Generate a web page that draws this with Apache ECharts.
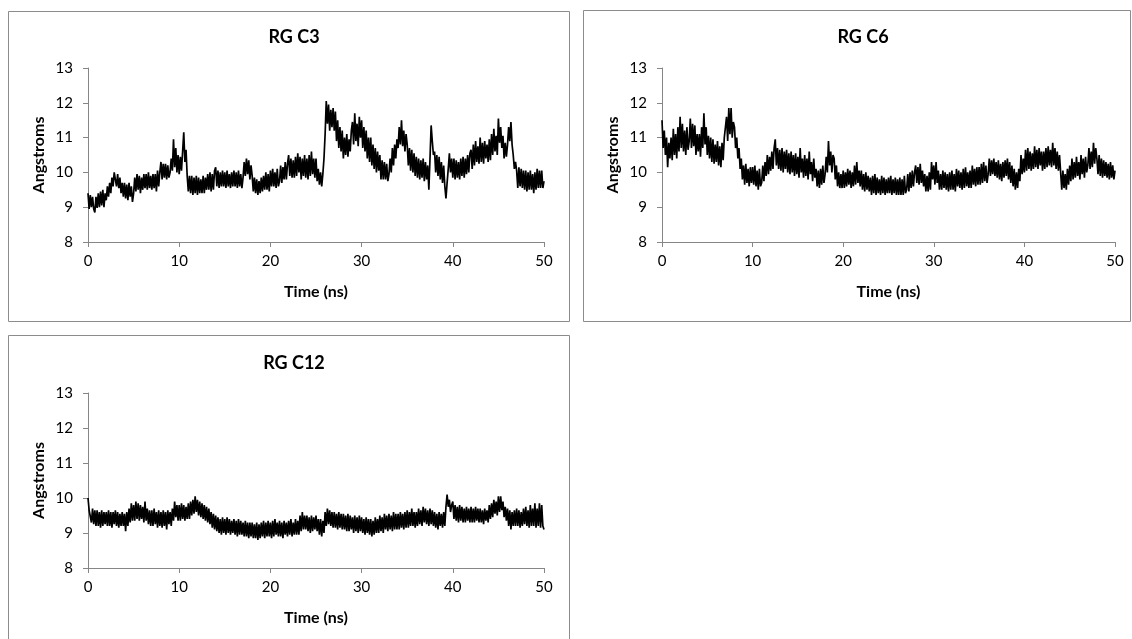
<!DOCTYPE html>
<html>
<head>
<meta charset="utf-8">
<script src="https://cdn.jsdelivr.net/npm/echarts@6/dist/echarts.min.js"></script>
<style>
html,body{margin:0;padding:0;background:#fff;}
#chart{width:1132px;height:639px;}
</style>
</head>
<body>
<div id="chart"></div>
<script>
// ---- data (Angstroms, sampled every 0.125 ns from 0 to 50 ns; one row per ns) ----
const timeStep = 0.125;
const xTicks = [0, 10, 20, 30, 40, 50];
const yTicks = [8, 9, 10, 11, 12, 13];
const titles = ['RG C3', 'RG C6', 'RG C12'];

const rgC3 = [
  9.4, 8.95, 9.35, 9.0, 9.3, 8.95, 8.85, 9.3,
  8.98, 9.4, 9.0, 9.45, 9.05, 9.5, 9.0, 9.4,
  9.2, 9.6, 9.3, 9.7, 9.4, 9.85, 9.6, 10.0,
  10.05, 9.6, 9.95, 9.55, 9.85, 9.4, 9.7, 9.3,
  9.7, 9.25, 9.65, 9.2, 9.7, 9.3, 9.6, 9.15,
  9.4, 9.85, 9.45, 9.95, 9.5, 9.9, 9.4, 9.85,
  9.5, 9.95, 9.55, 9.95, 9.5, 10.0, 9.55, 9.9,
  9.5, 9.95, 9.55, 9.95, 9.45, 10.05, 9.6, 10.0,
  10.3, 9.8, 10.25, 9.85, 10.25, 9.8, 10.2, 9.85,
  10.0, 10.4, 10.05, 10.95, 10.15, 10.7, 10.0, 10.5,
  9.95, 10.45, 10.05, 10.6, 11.15, 10.3, 10.65, 9.9,
  9.45, 9.9, 9.4, 9.9, 9.35, 9.85, 9.4, 9.9,
  9.35, 9.85, 9.4, 9.8, 9.4, 9.9, 9.4, 9.85,
  9.5, 9.95, 9.5, 10.0, 9.45, 9.95, 9.5, 10.05,
  10.15, 9.6, 10.05, 9.55, 10.0, 9.6, 10.05, 9.6,
  10.0, 9.55, 10.05, 9.6, 9.95, 9.55, 10.0, 9.6,
  10.05, 9.6, 10.0, 9.55, 10.05, 9.6, 9.95, 9.55,
  9.85, 10.3, 9.9, 10.4, 9.95, 10.35, 9.8, 10.2,
  9.9, 9.45, 9.85, 9.4, 9.8, 9.35, 9.75, 9.4,
  9.85, 9.45, 9.9, 9.5, 10.0, 9.5, 9.95, 9.45,
  10.05, 9.6, 10.1, 9.6, 10.0, 9.55, 10.1, 9.6,
  9.75, 10.2, 9.7, 10.15, 9.8, 10.3, 9.8, 10.25,
  10.5, 9.9, 10.4, 9.85, 10.35, 9.85, 10.45, 9.9,
  10.55, 10.0, 10.45, 9.8, 10.4, 9.9, 10.5, 9.85,
  10.4, 9.8, 10.5, 9.9, 10.6, 9.95, 10.4, 9.85,
  10.4, 9.75, 10.1, 9.65, 10.0, 9.6, 9.95, 10.4,
  11.1, 12.05, 11.4, 11.95, 11.2, 11.8, 11.3, 11.85,
  11.2, 11.75, 10.9, 11.5, 10.7, 11.3, 10.6, 11.2,
  10.4, 11.0, 10.5, 11.1, 10.45, 10.95, 10.6, 11.2,
  11.45, 10.8, 11.7, 10.9, 11.4, 10.75, 11.6, 11.0,
  11.5, 10.7, 11.3, 10.6, 11.2, 10.4, 11.0, 10.3,
  11.0, 10.2, 10.8, 10.1, 10.7, 10.0, 10.6, 10.05,
  10.5, 9.8, 10.35, 9.8, 10.3, 9.8, 10.25, 9.75,
  9.95, 10.4, 10.0, 10.7, 10.2, 10.8, 10.4, 10.95,
  10.7, 11.3, 10.8, 11.5, 10.75, 11.2, 10.6, 11.1,
  10.8, 10.2, 10.7, 10.05, 10.65, 10.0, 10.55, 9.9,
  10.45, 9.85, 10.4, 9.8, 10.35, 9.85, 10.4, 9.75,
  10.3, 9.8, 10.2, 9.5, 10.4, 11.35, 10.9, 10.5,
  10.6, 10.0, 10.5, 9.9, 10.45, 9.8, 10.3, 9.7,
  10.2, 9.6, 9.25, 9.7, 10.1, 10.55, 10.0, 10.4,
  9.85, 10.4, 9.8, 10.35, 9.85, 10.3, 9.8, 10.4,
  9.9, 10.45, 9.85, 10.4, 9.95, 10.5, 10.0, 10.55,
  10.65, 10.1, 10.8, 10.2, 10.9, 10.3, 10.75, 10.25,
  11.0, 10.3, 10.85, 10.25, 10.9, 10.4, 10.8, 10.3,
  10.95, 10.35, 11.1, 10.5, 11.25, 10.6, 11.05, 10.5,
  11.55, 10.85, 11.3, 10.7, 11.05, 10.4, 10.85, 10.45,
  10.8, 11.3, 10.9, 11.45, 10.8, 10.5, 10.1, 10.3,
  10.05, 9.55, 10.15, 9.6, 10.1, 9.55, 10.05, 9.5,
  10.05, 9.45, 10.0, 9.5, 10.05, 9.5, 9.95, 9.4,
  10.0, 9.5, 10.1, 9.55, 10.05, 9.55, 10.05, 9.55,
  9.75
];

const rgC6 = [
  11.5, 10.7, 11.2, 10.5, 11.0, 10.15, 10.85, 10.4,
  11.0, 10.35, 11.25, 10.5, 11.1, 10.4, 11.3, 10.6,
  11.6, 10.7, 11.4, 10.6, 11.2, 10.5, 11.3, 10.65,
  10.9, 11.55, 10.7, 11.4, 10.75, 11.35, 10.5, 11.1,
  10.6, 11.1, 10.45, 11.3, 10.7, 11.7, 10.8, 11.3,
  10.5, 11.05, 10.4, 11.0, 10.3, 10.95, 10.25, 10.8,
  10.3, 10.9, 10.2, 10.75, 10.15, 10.85, 10.35, 11.0,
  11.0, 11.6, 10.9, 11.85, 11.1, 11.85, 11.0, 11.45,
  11.3, 10.7, 11.0, 10.4, 10.7, 10.1, 10.4, 9.8,
  10.2, 9.65, 10.25, 9.7, 10.1, 9.6, 10.15, 9.7,
  10.15, 9.65, 10.2, 9.6, 10.05, 9.5, 10.1, 9.6,
  9.7, 10.2, 9.75, 10.3, 9.9, 10.5, 9.95, 10.45,
  10.05, 10.6, 10.1, 10.7, 10.95, 10.2, 10.7, 10.1,
  10.65, 10.05, 10.7, 10.0, 10.6, 10.1, 10.65, 10.0,
  10.55, 9.95, 10.6, 10.0, 10.5, 9.9, 10.55, 9.95,
  10.45, 9.85, 10.7, 10.0, 10.4, 9.85, 10.5, 9.9,
  10.4, 9.8, 10.6, 9.95, 10.3, 9.75, 10.4, 9.85,
  10.1, 9.6, 10.05, 9.55, 10.1, 9.65, 10.2, 9.7,
  9.95, 10.45, 10.0, 10.9, 10.2, 10.6, 10.0, 10.5,
  10.4, 9.8, 10.2, 9.6, 10.0, 9.55, 9.95, 9.55,
  10.05, 9.55, 10.0, 9.6, 10.1, 9.65, 10.05, 9.55,
  10.0, 9.6, 10.2, 9.65, 10.3, 9.7, 10.05, 9.6,
  10.05, 9.5, 9.95, 9.45, 10.0, 9.5, 9.9, 9.45,
  9.85, 9.35, 9.9, 9.4, 9.95, 9.35, 9.85, 9.4,
  9.8, 9.35, 9.9, 9.4, 9.85, 9.35, 9.8, 9.4,
  9.85, 9.4, 9.9, 9.35, 9.8, 9.4, 9.85, 9.35,
  9.8, 9.35, 9.85, 9.35, 9.8, 9.35, 9.9, 9.4,
  9.5, 9.95, 9.45, 10.0, 9.55, 10.05, 9.6, 10.0,
  10.2, 9.7, 10.15, 9.65, 10.25, 9.7, 10.05, 9.6,
  9.95, 9.45, 9.9, 9.45, 10.0, 9.5, 10.3, 9.8,
  10.2, 9.65, 10.3, 9.7, 10.05, 9.5, 9.95, 9.5,
  10.05, 9.55, 10.0, 9.5, 9.95, 9.45, 10.0, 9.5,
  10.05, 9.5, 9.95, 9.45, 10.1, 9.6, 10.05, 9.55,
  10.0, 9.5, 10.1, 9.55, 10.15, 9.6, 10.0, 9.55,
  10.05, 9.55, 10.2, 9.65, 10.1, 9.6, 10.15, 9.65,
  10.15, 9.65, 10.25, 9.7, 10.3, 9.75, 10.2, 9.7,
  9.95, 10.4, 9.9, 10.35, 9.95, 10.4, 9.9, 10.3,
  9.85, 10.35, 9.8, 10.25, 9.75, 10.3, 9.85, 10.35,
  9.9, 10.4, 9.8, 10.3, 9.7, 10.2, 9.6, 10.1,
  9.5, 10.0, 9.55, 10.1, 9.75, 10.5, 9.95, 10.4,
  10.0, 10.65, 10.05, 10.7, 10.1, 10.6, 10.05, 10.55,
  10.1, 10.75, 10.15, 10.65, 10.1, 10.7, 10.2, 10.6,
  10.05, 10.6, 10.1, 10.7, 10.15, 10.75, 10.2, 10.65,
  10.15, 10.85, 10.2, 10.7, 10.1, 10.6, 10.05, 10.5,
  10.0, 9.5, 10.05, 9.55, 9.95, 9.5, 10.1, 9.65,
  10.2, 9.75, 10.4, 9.8, 10.3, 9.85, 10.45, 9.9,
  10.3, 9.8, 10.5, 9.95, 10.4, 9.85, 10.45, 10.0,
  10.2, 10.7, 10.1, 10.6, 10.15, 10.85, 10.25, 10.7,
  10.4, 9.95, 10.5, 9.9, 10.4, 9.85, 10.35, 9.9,
  10.3, 9.85, 10.25, 9.8, 10.3, 9.85, 10.2, 9.8,
  10.05
];

const rgC12 = [
  10.0, 9.65, 9.7, 9.3, 9.7, 9.25, 9.65, 9.2,
  9.65, 9.2, 9.6, 9.15, 9.65, 9.2, 9.6, 9.25,
  9.6, 9.2, 9.65, 9.2, 9.6, 9.15, 9.6, 9.25,
  9.65, 9.2, 9.6, 9.15, 9.55, 9.2, 9.6, 9.2,
  9.55, 9.05, 9.6, 9.2, 9.7, 9.3, 9.85, 9.35,
  9.8, 9.35, 9.9, 9.4, 9.85, 9.35, 9.8, 9.4,
  9.75, 9.3, 9.9, 9.35, 9.7, 9.25, 9.65, 9.2,
  9.65, 9.2, 9.7, 9.25, 9.6, 9.15, 9.65, 9.2,
  9.6, 9.15, 9.65, 9.2, 9.6, 9.1, 9.65, 9.25,
  9.6, 9.2, 9.7, 9.35, 9.9, 9.45, 9.8, 9.35,
  9.8, 9.35, 9.85, 9.4, 9.8, 9.35, 9.75, 9.4,
  9.85, 9.4, 9.9, 9.5, 9.95, 9.55, 10.05, 9.6,
  9.95, 9.5, 9.9, 9.45, 9.85, 9.4, 9.8, 9.35,
  9.75, 9.3, 9.7, 9.25, 9.6, 9.15, 9.55, 9.1,
  9.5, 9.05, 9.45, 9.0, 9.4, 8.95, 9.45, 9.0,
  9.4, 8.95, 9.45, 9.0, 9.4, 8.95, 9.35, 9.0,
  9.4, 8.95, 9.35, 8.9, 9.4, 8.95, 9.35, 8.95,
  9.3, 8.9, 9.35, 8.9, 9.3, 8.85, 9.3, 8.9,
  9.3, 8.85, 9.25, 8.85, 9.3, 8.8, 9.25, 8.85,
  9.3, 8.9, 9.35, 8.85, 9.3, 8.9, 9.35, 8.9,
  9.3, 8.85, 9.35, 8.9, 9.4, 8.95, 9.3, 8.9,
  9.35, 8.9, 9.3, 8.85, 9.35, 8.95, 9.3, 8.9,
  9.35, 8.95, 9.4, 8.9, 9.3, 8.95, 9.4, 8.95,
  9.35, 8.95, 9.5, 9.05, 9.6, 9.1, 9.5, 9.1,
  9.5, 9.05, 9.45, 9.0, 9.5, 9.05, 9.45, 9.1,
  9.5, 9.05, 9.4, 8.95, 9.4, 8.9, 9.35, 9.0,
  9.6, 9.2, 9.7, 9.25, 9.65, 9.2, 9.6, 9.15,
  9.6, 9.15, 9.55, 9.1, 9.6, 9.15, 9.55, 9.1,
  9.55, 9.1, 9.5, 9.05, 9.55, 9.05, 9.5, 9.1,
  9.45, 9.0, 9.5, 9.05, 9.45, 9.0, 9.5, 9.05,
  9.45, 9.0, 9.4, 8.95, 9.45, 9.0, 9.4, 8.95,
  9.4, 8.9, 9.35, 8.95, 9.45, 9.0, 9.4, 9.0,
  9.5, 9.05, 9.45, 9.0, 9.55, 9.1, 9.5, 9.05,
  9.55, 9.1, 9.5, 9.05, 9.6, 9.1, 9.55, 9.1,
  9.55, 9.1, 9.6, 9.15, 9.55, 9.1, 9.6, 9.15,
  9.65, 9.15, 9.6, 9.2, 9.7, 9.2, 9.6, 9.15,
  9.6, 9.2, 9.7, 9.25, 9.65, 9.2, 9.75, 9.3,
  9.7, 9.25, 9.65, 9.2, 9.7, 9.25, 9.65, 9.2,
  9.6, 9.15, 9.55, 9.1, 9.6, 9.2, 9.55, 9.15,
  9.6, 9.2, 9.75, 10.1, 9.75, 9.95, 9.6, 9.8,
  9.9, 9.4, 9.8, 9.35, 9.75, 9.3, 9.8, 9.35,
  9.75, 9.3, 9.7, 9.3, 9.75, 9.35, 9.7, 9.3,
  9.75, 9.3, 9.7, 9.3, 9.75, 9.35, 9.7, 9.3,
  9.7, 9.3, 9.65, 9.25, 9.7, 9.35, 9.65, 9.3,
  9.8, 9.4, 9.85, 9.45, 9.95, 9.55, 9.9, 9.5,
  10.05, 9.6, 10.05, 9.65, 9.9, 9.45, 9.75, 9.35,
  9.7, 9.2, 9.65, 9.1, 9.6, 9.2, 9.65, 9.2,
  9.7, 9.2, 9.65, 9.15, 9.6, 9.2, 9.7, 9.25,
  9.75, 9.2, 9.65, 9.15, 9.8, 9.2, 9.7, 9.2,
  9.85, 9.15, 9.7, 9.2, 9.85, 9.15, 9.8, 9.2,
  9.1
];

const seriesList = [rgC3, rgC6, rgC12];

// ---- layout ----
const FONT = 'Lato, "Open Sans", sans-serif';
const grids = [
  { left: 88, top: 68, width: 456, height: 174 },
  { left: 662, top: 68, width: 453, height: 174 },
  { left: 88, top: 393, width: 456, height: 175 }
];
const panels = [
  { x: 8, y: 11, w: 561, h: 310 },
  { x: 583, y: 10, w: 547, h: 311 },
  { x: 8, y: 335, w: 561, h: 310 }
];
const titlePos = [
  { x: 289, y: 23 },
  { x: 858, y: 23 },
  { x: 289, y: 349 }
];

function toPairs(arr) {
  return arr.map((v, i) => [i * timeStep, v]);
}

const axisColor = '#868686';
const option = {
  animation: false,
  backgroundColor: '#fff',
  title: titles.map((t, i) => ({
    text: t,
    left: titlePos[i].x,
    top: titlePos[i].y,
    textAlign: 'center',
    textStyle: { fontFamily: FONT, fontSize: 18, fontWeight: 'bold', color: '#000' }
  })),
  graphic: panels.map(p => ({
    type: 'rect',
    shape: { x: p.x + 0.5, y: p.y + 0.5, width: p.w, height: p.h },
    style: { fill: null, stroke: '#8c8c8c', lineWidth: 1 },
    silent: true
  })),
  grid: grids,
  xAxis: grids.map((g, i) => ({
    type: 'value',
    gridIndex: i,
    min: xTicks[0],
    max: xTicks[xTicks.length - 1],
    interval: xTicks[1] - xTicks[0],
    name: 'Time (ns)',
    nameLocation: 'middle',
    nameGap: 42,
    nameTextStyle: { fontFamily: FONT, fontSize: 16, fontWeight: 'bold', color: '#000' },
    axisLine: { show: true, onZero: false, lineStyle: { color: axisColor, width: 1 } },
    axisTick: { show: true, inside: false, length: 5, lineStyle: { color: axisColor } },
    axisLabel: { fontFamily: FONT, fontSize: 15, color: '#000', margin: 12 },
    splitLine: { show: false }
  })),
  yAxis: grids.map((g, i) => ({
    type: 'value',
    gridIndex: i,
    min: yTicks[0],
    max: yTicks[yTicks.length - 1],
    interval: yTicks[1] - yTicks[0],
    name: 'Angstroms',
    nameLocation: 'middle',
    nameGap: 41,
    nameTextStyle: { fontFamily: FONT, fontSize: 16, fontWeight: 'bold', color: '#000' },
    axisLine: { show: true, lineStyle: { color: axisColor, width: 1 } },
    axisTick: { show: true, inside: false, length: 5, lineStyle: { color: axisColor } },
    axisLabel: { fontFamily: FONT, fontSize: 15, color: '#000', margin: 15 },
    splitLine: { show: false }
  })),
  series: seriesList.map((s, i) => ({
    type: 'line',
    name: titles[i],
    xAxisIndex: i,
    yAxisIndex: i,
    data: toPairs(s),
    showSymbol: false,
    symbol: 'none',
    sampling: null,
    lineStyle: { color: '#000', width: 1.7 },
    z: 3
  }))
};

const chart = echarts.init(document.getElementById('chart'), null, { renderer: 'canvas' });
chart.setOption(option);
</script>
</body>
</html>
